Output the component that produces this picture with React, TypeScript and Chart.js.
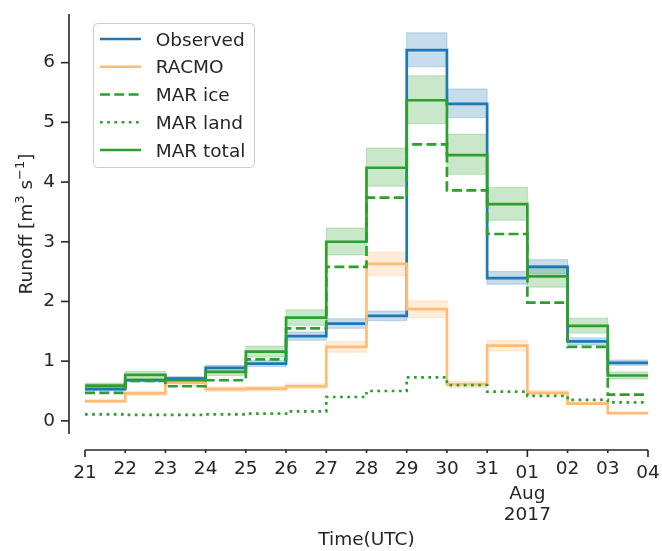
import React, { useEffect, useRef } from 'react';
import { Chart, registerables } from 'chart.js';

Chart.register(...registerables);

// ---------- data ----------
const dayLabels = ['21', '22', '23', '24', '25', '26', '27', '28', '29', '30', '31', '01', '02', '03', '04'];
const majorTickIdx = [0, 11, 14];
const extraTickLines: Record<number, string[]> = { 11: ['Aug', '2017'] };
const yTicks = [0, 1, 2, 3, 4, 5, 6];
const seriesNames = ['Observed', 'RACMO', 'MAR ice', 'MAR land', 'MAR total'];

const observed = [0.53, 0.68, 0.71, 0.89, 0.96, 1.42, 1.63, 1.76, 6.21, 5.31, 2.39, 2.58, 1.33, 0.97];
const observedLow = [0.5, 0.65, 0.68, 0.85, 0.91, 1.35, 1.55, 1.68, 5.93, 5.08, 2.29, 2.46, 1.27, 0.93];
const observedHigh = [0.56, 0.71, 0.74, 0.93, 1.01, 1.49, 1.71, 1.84, 6.5, 5.56, 2.5, 2.7, 1.39, 1.02];

const racmo = [0.33, 0.46, 0.64, 0.53, 0.54, 0.58, 1.24, 2.63, 1.87, 0.61, 1.26, 0.47, 0.29, 0.13];
const racmoLow = [0.31, 0.43, 0.59, 0.49, 0.5, 0.54, 1.15, 2.43, 1.73, 0.56, 1.17, 0.43, 0.27, 0.12];
const racmoHigh = [0.35, 0.49, 0.69, 0.57, 0.58, 0.62, 1.33, 2.83, 2.01, 0.66, 1.35, 0.51, 0.31, 0.14];

const marIce = [0.47, 0.67, 0.58, 0.68, 1.03, 1.55, 2.58, 3.74, 4.63, 3.86, 3.13, 1.98, 1.24, 0.44];
const marLand = [0.11, 0.1, 0.1, 0.11, 0.12, 0.16, 0.4, 0.5, 0.73, 0.6, 0.49, 0.42, 0.35, 0.31];

const marTotal = [0.59, 0.77, 0.68, 0.82, 1.16, 1.73, 3.0, 4.24, 5.37, 4.45, 3.63, 2.42, 1.59, 0.76];
const marTotalLow = [0.55, 0.71, 0.63, 0.76, 1.07, 1.6, 2.78, 3.93, 4.98, 4.13, 3.36, 2.24, 1.47, 0.7];
const marTotalHigh = [0.63, 0.83, 0.73, 0.88, 1.25, 1.86, 3.23, 4.57, 5.78, 4.8, 3.91, 2.6, 1.72, 0.82];

// ---------- styles ----------
const FONT = '"DejaVu Sans", "Liberation Sans", sans-serif';
const INK = '#262626';
const BLUE = '#1f77b4';
const ORANGE = '#ffbb78';
const GREEN = '#2ca02c';
const BLUE_BAND = 'rgba(31,119,180,0.25)';
const ORANGE_BAND = 'rgba(255,187,120,0.28)';
const GREEN_BAND = 'rgba(44,160,44,0.25)';
const LW = 2.7;
const DASH = [10, 4.3];
const DOT = [2.7, 4.5];

const toSteps = (vals: number[]) =>
  vals.map((v, i) => ({ x: i, y: v })).concat([{ x: vals.length, y: vals[vals.length - 1] }]);

const lineStyles = [
  { color: BLUE, dash: [] as number[] },
  { color: ORANGE, dash: [] as number[] },
  { color: GREEN, dash: DASH },
  { color: GREEN, dash: DOT },
  { color: GREEN, dash: [] as number[] },
];

const decorPlugin = {
  id: 'decor',
  beforeDraw(chart: any) {
    const { ctx, width, height } = chart;
    ctx.save();
    ctx.fillStyle = '#ffffff';
    ctx.fillRect(0, 0, width, height);
    ctx.restore();
  },
  afterDraw(chart: any) {
    const { ctx, chartArea } = chart;
    const xs = chart.scales.x;
    const ys = chart.scales.y;
    const ySpineX = chartArea.left - 16;
    const xSpineY = chartArea.bottom + 16;
    ctx.save();
    ctx.strokeStyle = INK;
    ctx.lineWidth = 1.6;
    ctx.lineCap = 'butt';
    const seg = (x1: number, y1: number, x2: number, y2: number) => {
      ctx.beginPath();
      ctx.moveTo(x1, y1);
      ctx.lineTo(x2, y2);
      ctx.stroke();
    };
    // y spine + ticks
    seg(ySpineX, chartArea.top, ySpineX, chartArea.bottom);
    yTicks.forEach((v) => {
      const py = ys.getPixelForValue(v);
      seg(ySpineX - 8, py, ySpineX, py);
    });
    // x spine + ticks + labels
    seg(chartArea.left, xSpineY, chartArea.right, xSpineY);
    ctx.fillStyle = INK;
    ctx.textAlign = 'center';
    ctx.textBaseline = 'alphabetic';
    ctx.font = `18.5px ${FONT}`;
    dayLabels.forEach((lab, i) => {
      const px = xs.getPixelForValue(i);
      const major = majorTickIdx.includes(i);
      const len = major ? 7 : 3;
      seg(px, xSpineY, px, xSpineY + len);
      const base = xSpineY + len + 20.8;
      ctx.fillText(lab, px, base);
      (extraTickLines[i] || []).forEach((t, k) => ctx.fillText(t, px, base + 21.3 * (k + 1)));
    });
    // x title
    ctx.fillText('Time(UTC)', (chartArea.left + chartArea.right) / 2, 545);

    // y title with superscripts
    ctx.save();
    ctx.translate(31.7, (chartArea.top + chartArea.bottom) / 2);
    ctx.rotate(-Math.PI / 2);
    const parts = [
      { t: 'Runoff [m', sup: false },
      { t: '3', sup: true },
      { t: ' s', sup: false },
      { t: '\u22121', sup: true },
      { t: ']', sup: false },
    ];
    const fontFor = (sup: boolean) => `${sup ? 13 : 18.5}px ${FONT}`;
    let total = 0;
    parts.forEach((p) => {
      ctx.font = fontFor(p.sup);
      total += ctx.measureText(p.t).width;
    });
    let cx = -total / 2;
    ctx.textAlign = 'left';
    parts.forEach((p) => {
      ctx.font = fontFor(p.sup);
      ctx.fillText(p.t, cx, p.sup ? -7.5 : 0);
      cx += ctx.measureText(p.t).width;
    });
    ctx.restore();

    // legend
    const bx = 93.5, by = 23.5, bw = 161, bh = 144, r = 4;
    ctx.beginPath();
    ctx.moveTo(bx + r, by);
    ctx.lineTo(bx + bw - r, by);
    ctx.arcTo(bx + bw, by, bx + bw, by + r, r);
    ctx.lineTo(bx + bw, by + bh - r);
    ctx.arcTo(bx + bw, by + bh, bx + bw - r, by + bh, r);
    ctx.lineTo(bx + r, by + bh);
    ctx.arcTo(bx, by + bh, bx, by + bh - r, r);
    ctx.lineTo(bx, by + r);
    ctx.arcTo(bx, by, bx + r, by, r);
    ctx.closePath();
    ctx.fillStyle = 'rgba(255,255,255,0.8)';
    ctx.fill();
    ctx.strokeStyle = '#cccccc';
    ctx.lineWidth = 1;
    ctx.stroke();

    ctx.font = `18.5px ${FONT}`;
    ctx.textAlign = 'left';
    seriesNames.forEach((name, i) => {
      const cy = 39 + i * 27.75;
      const st = lineStyles[i];
      ctx.strokeStyle = st.color;
      ctx.lineWidth = LW;
      ctx.setLineDash(st.dash);
      seg(100, cy, 141, cy);
      ctx.setLineDash([]);
      ctx.fillStyle = INK;
      ctx.fillText(name, 155.7, cy + 6.7);
    });
    ctx.restore();
  },
};

export default function App() {
  const ref = useRef<HTMLCanvasElement | null>(null);

  useEffect(() => {
    if (!ref.current) return;
    const mkLine = (label: string, vals: number[], idx: number, order: number) => ({
      label,
      data: toSteps(vals),
      stepped: 'before' as const,
      borderColor: lineStyles[idx].color,
      borderWidth: LW,
      borderDash: lineStyles[idx].dash,
      borderCapStyle: 'butt' as const,
      borderJoinStyle: 'miter' as const,
      pointRadius: 0,
      fill: false,
      order,
    });
    const mkBand = (label: string, vals: number[], color: string, fill: any, order: number) => ({
      label,
      data: toSteps(vals),
      stepped: 'before' as const,
      borderColor: color,
      borderWidth: 1,
      backgroundColor: color,
      pointRadius: 0,
      fill,
      order,
    });

    const chart = new Chart(ref.current, {
      type: 'line',
      data: {
        datasets: [
          mkLine(seriesNames[4], marTotal, 4, 0),
          mkLine(seriesNames[3], marLand, 3, 1),
          mkLine(seriesNames[2], marIce, 2, 2),
          mkLine(seriesNames[1], racmo, 1, 3),
          mkLine(seriesNames[0], observed, 0, 4),
          mkBand('MAR total high', marTotalHigh, GREEN_BAND, false, 5),
          mkBand('MAR total low', marTotalLow, GREEN_BAND, '-1', 6),
          mkBand('RACMO high', racmoHigh, ORANGE_BAND, false, 7),
          mkBand('RACMO low', racmoLow, ORANGE_BAND, '-1', 8),
          mkBand('Observed high', observedHigh, BLUE_BAND, false, 9),
          mkBand('Observed low', observedLow, BLUE_BAND, '-1', 10),
        ] as any,
      },
      options: {
        animation: false,
        responsive: false,
        maintainAspectRatio: false,
        layout: { padding: { top: 14, right: 14, left: 0, bottom: 0 } },
        plugins: {
          legend: { display: false },
          tooltip: { enabled: false },
        },
        scales: {
          x: {
            type: 'linear',
            min: 0,
            max: dayLabels.length - 1,
            grid: { display: false, drawTicks: false },
            border: { display: false },
            ticks: { display: false },
            afterFit: (s: any) => {
              s.height = 117;
              s.paddingLeft = 0;
              s.paddingRight = 0;
            },
          },
          y: {
            type: 'linear',
            min: -0.22,
            max: 6.815,
            grid: { display: false, drawTicks: false },
            border: { display: false },
            ticks: { padding: 30, color: INK, font: { family: FONT, size: 18.5 } },
            afterBuildTicks: (s: any) => {
              s.ticks = yTicks.map((v) => ({ value: v }));
            },
            afterFit: (s: any) => {
              s.width = 85;
              s.paddingTop = 0;
              s.paddingBottom = 0;
            },
          },
        },
      } as any,
      plugins: [decorPlugin],
    });
    return () => chart.destroy();
  }, []);

  return (
    <div style={{ position: 'absolute', left: 0, top: 0, width: 662, height: 551, background: '#fff' }}>
      <canvas ref={ref} width={662} height={551} style={{ display: 'block' }} />
    </div>
  );
}
